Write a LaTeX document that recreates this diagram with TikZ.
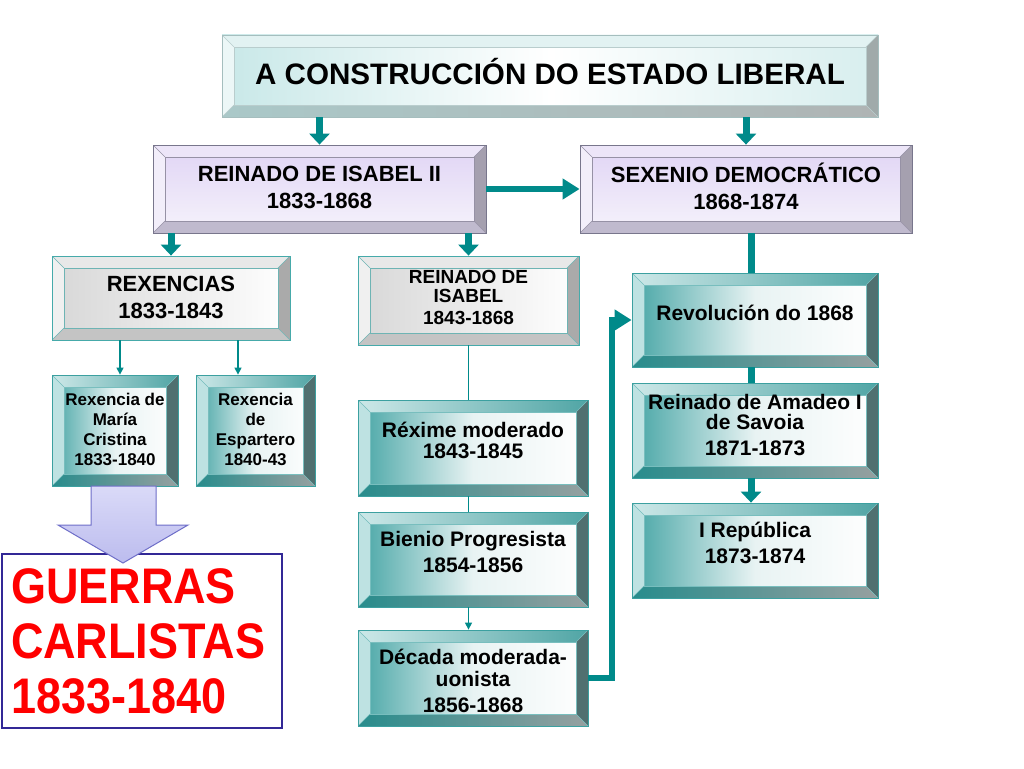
\documentclass[tikz,border=0pt]{standalone}
\usepackage{fontspec}
\setmainfont{Liberation Sans}
\newfontfamily\narrowsans[FakeStretch=0.9]{Liberation Sans}
\usetikzlibrary{arrows.meta}
\definecolor{tl}{RGB}{0,138,138}
\def\bw{12pt}
\newcommand\lns[2]{\raisebox{#1}[\height][\depth]{\begin{tabular}{@{}c@{}}#2\end{tabular}}}
\tikzset{
  bevpp/.style={path picture={
    \path[bevT] (path picture bounding box.north west) -- (path picture bounding box.north east) -- ([shift={(-\bw,-\bw)}]path picture bounding box.north east) -- ([shift={(\bw,-\bw)}]path picture bounding box.north west) -- cycle;
    \path[bevL] (path picture bounding box.north west) -- ([shift={(\bw,-\bw)}]path picture bounding box.north west) -- ([shift={(\bw,\bw)}]path picture bounding box.south west) -- (path picture bounding box.south west) -- cycle;
    \path[bevR] (path picture bounding box.north east) -- ([shift={(-\bw,-\bw)}]path picture bounding box.north east) -- ([shift={(-\bw,\bw)}]path picture bounding box.south east) -- (path picture bounding box.south east) -- cycle;
    \path[bevB] (path picture bounding box.south west) -- ([shift={(\bw,\bw)}]path picture bounding box.south west) -- ([shift={(-\bw,\bw)}]path picture bounding box.south east) -- (path picture bounding box.south east) -- cycle;
    \draw[bevline] ([shift={(\bw,-\bw)}]path picture bounding box.north west) rectangle ([shift={(-\bw,\bw)}]path picture bounding box.south east);
    \draw[bevline] (path picture bounding box.north west) -- ([shift={(\bw,-\bw)}]path picture bounding box.north west)
      (path picture bounding box.north east) -- ([shift={(-\bw,-\bw)}]path picture bounding box.north east)
      (path picture bounding box.south west) -- ([shift={(\bw,\bw)}]path picture bounding box.south west)
      (path picture bounding box.south east) -- ([shift={(-\bw,\bw)}]path picture bounding box.south east);
  }},
  boxbase/.style={rectangle, inner sep=0pt, line width=0.8pt, bevpp},
  cyanbox/.style={boxbase, draw={rgb,255:red,165;green,190;blue,190},
    left color={rgb,255:red,200;green,232;blue,232}, right color={rgb,255:red,215;green,238;blue,238}, middle color=white,
    bevT/.style={fill={rgb,255:red,226;green,242;blue,242}},
    bevL/.style={fill={rgb,255:red,236;green,247;blue,247}},
    bevR/.style={fill={rgb,255:red,160;green,170;blue,170}},
    bevB/.style={left color={rgb,255:red,170;green,200;blue,200}, right color={rgb,255:red,175;green,180;blue,180}},
    bevline/.style={draw={rgb,255:red,185;green,205;blue,205}, line width=0.5pt}},
  lavbox/.style={boxbase, draw={rgb,255:red,120;green,118;blue,140},
    top color={rgb,255:red,224;green,212;blue,245}, bottom color={rgb,255:red,246;green,243;blue,251},
    bevT/.style={fill={rgb,255:red,236;green,229;blue,248}},
    bevL/.style={fill={rgb,255:red,242;green,238;blue,250}},
    bevR/.style={fill={rgb,255:red,165;green,160;blue,175}},
    bevB/.style={fill={rgb,255:red,192;green,186;blue,206}},
    bevline/.style={draw={rgb,255:red,150;green,145;blue,165}, line width=0.5pt}},
  graybox/.style={boxbase, draw={rgb,255:red,70;green,170;blue,170},
    left color={rgb,255:red,215;green,215;blue,215}, right color=white,
    bevT/.style={fill={rgb,255:red,232;green,232;blue,232}},
    bevL/.style={fill={rgb,255:red,240;green,240;blue,240}},
    bevR/.style={fill={rgb,255:red,170;green,170;blue,170}},
    bevB/.style={fill={rgb,255:red,196;green,196;blue,196}},
    bevline/.style={draw={rgb,255:red,110;green,180;blue,180}, line width=0.5pt}},
  tealbox/.style={boxbase, draw={rgb,255:red,60;green,160;blue,160},
    left color={rgb,255:red,70;green,165;blue,165}, right color=white, middle color={rgb,255:red,232;green,243;blue,243},
    bevT/.style={left color={rgb,255:red,205;green,232;blue,232}, right color={rgb,255:red,80;green,165;blue,165}},
    bevL/.style={fill={rgb,255:red,190;green,226;blue,226}},
    bevR/.style={fill={rgb,255:red,80;green,112;blue,112}},
    bevB/.style={left color={rgb,255:red,40;green,140;blue,140}, right color={rgb,255:red,150;green,160;blue,160}},
    bevline/.style={draw={rgb,255:red,120;green,190;blue,190}, line width=0.5pt}},
  tarr/.style={draw=tl, line width=7pt, -{Triangle[width=20pt,length=11pt]}},
  tline/.style={draw=tl, line width=7pt},
  harr/.style={draw=tl, line width=6pt, -{Triangle[width=20pt,length=17pt]}},
  thinarr/.style={draw=tl, line width=1.3pt, -{Triangle[width=7pt,length=7pt]}},
  thinline/.style={draw=tl, line width=1.3pt},
  fL/.style={font=\fontsize{22}{27}\selectfont\bfseries},
  fM/.style={font=\fontsize{21}{26}\selectfont\bfseries},
  fS/.style={font=\fontsize{17}{20}\selectfont\bfseries},
}
\begin{document}
\begin{tikzpicture}[x=1pt,y=-1pt]
\useasboundingbox[fill=white] (0,0) rectangle (1024,768);
% boxes
\node[cyanbox, minimum width=656pt, minimum height=82pt, font=\fontsize{29.6}{34}\selectfont\bfseries] (title) at (550,76) {\lns{0pt}{A CONSTRUCCIÓN DO ESTADO LIBERAL}};
\node[lavbox, fL, minimum width=333pt, minimum height=88pt] (isa) at (319.5,189) {\lns{-1pt}{REINADO DE ISABEL II\\1833-1868}};
\node[lavbox, fL, minimum width=332pt, minimum height=88pt] (sex) at (746,189) {\lns{-1pt}{SEXENIO DEMOCRÁTICO\\1868-1874}};
\node[graybox, fL, minimum width=238pt, minimum height=84pt] (rex) at (171,298) {\lns{-2pt}{REXENCIAS\\1833-1843}};
\node[graybox, font=\fontsize{19}{22}\selectfont\bfseries, minimum width=221pt, minimum height=89pt] (isa2) at (468.5,300.5) {\lns{1pt}{REINADO DE\\[-3pt]ISABEL\\1843-1868}};
\node[tealbox, fM, minimum width=246pt, minimum height=94pt] (rev) at (755,320) {\lns{5pt}{Revolución do 1868}};
\node[tealbox, fM, minimum width=246pt, minimum height=95pt] (ama) at (755,430.5) {\lns{3pt}{Reinado de Amadeo I\\[-6pt]de Savoia\\1871-1873}};
\node[tealbox, fM, minimum width=246pt, minimum height=95pt] (rep) at (755,550.5) {\lns{5pt}{I República\\1873-1874}};
\node[tealbox, fS, minimum width=126pt, minimum height=111pt] (mc) at (115,430.5) {\lns{-1pt}{Rexencia de\\María\\Cristina\\1833-1840}};
\node[tealbox, fS, minimum width=119pt, minimum height=111pt] (esp) at (255.5,430.5) {\lns{-1pt}{Rexencia\\de\\Espartero\\1840-43}};
\node[tealbox, fM, minimum width=230pt, minimum height=96pt] (rxm) at (473,448) {\lns{5pt}{Réxime moderado\\[-5pt]1843-1845}};
\node[tealbox, fM, minimum width=230pt, minimum height=95pt] (bie) at (473,559.5) {\lns{5pt}{Bienio Progresista\\1854-1856}};
\node[tealbox, fM, minimum width=230pt, minimum height=96pt] (dec) at (473,678) {\lns{-5pt}{Década moderada-\\[-4pt]uonista\\1856-1868}};
% Guerras carlistas
\node[draw={rgb,255:red,50;green,40;blue,150}, line width=2pt, rectangle, minimum width=280pt, minimum height=174pt, inner sep=0pt,
  text width=262pt, align=left, text={rgb,255:red,255;green,0;blue,0}, font=\narrowsans\fontsize{50}{55}\selectfont\bfseries] (gue) at (142,641) {GUERRAS\\CARLISTAS\\1833-1840};
% block arrow
\draw[draw={rgb,255:red,110;green,110;blue,200}, line width=1pt, top color={rgb,255:red,218;green,218;blue,248}, bottom color={rgb,255:red,188;green,188;blue,238}]
  (91,486) -- (156,486) -- (156,525) -- (188,525) -- (123,563) -- (58,525) -- (91,525) -- cycle;
% connectors
\draw[tarr] (title.south -| isa.north) -- (isa.north);
\draw[tarr] (title.south -| sex.north) -- (sex.north);
\draw[harr] (isa.east) -- (sex.west);
\draw[tarr] (isa.south -| rex.north) -- (rex.north);
\draw[tarr] (isa.south -| isa2.north) -- (isa2.north);
\draw[thinarr] (rex.south -| 120,0) -- (mc.north -| 120,0);
\draw[thinarr] (rex.south -| 238,0) -- (esp.north -| 238,0);
\draw[thinline] (isa2.south) -- (rxm.north -| isa2.south);
\draw[thinline] (rxm.south -| isa2.south) -- (bie.north -| isa2.south);
\draw[thinarr] (bie.south -| isa2.south) -- (dec.north -| isa2.south);
\coordinate (bend) at (612,320);
\draw[harr] (dec.east) -| (bend) -- (rev.west |- bend);
\draw[tline] (sex.south -| 751,0) -- (rev.north -| 751,0);
\draw[tline] (rev.south -| 751,0) -- (ama.north -| 751,0);
\draw[tarr] (ama.south -| 751,0) -- (rep.north -| 751,0);
\end{tikzpicture}
\end{document}
